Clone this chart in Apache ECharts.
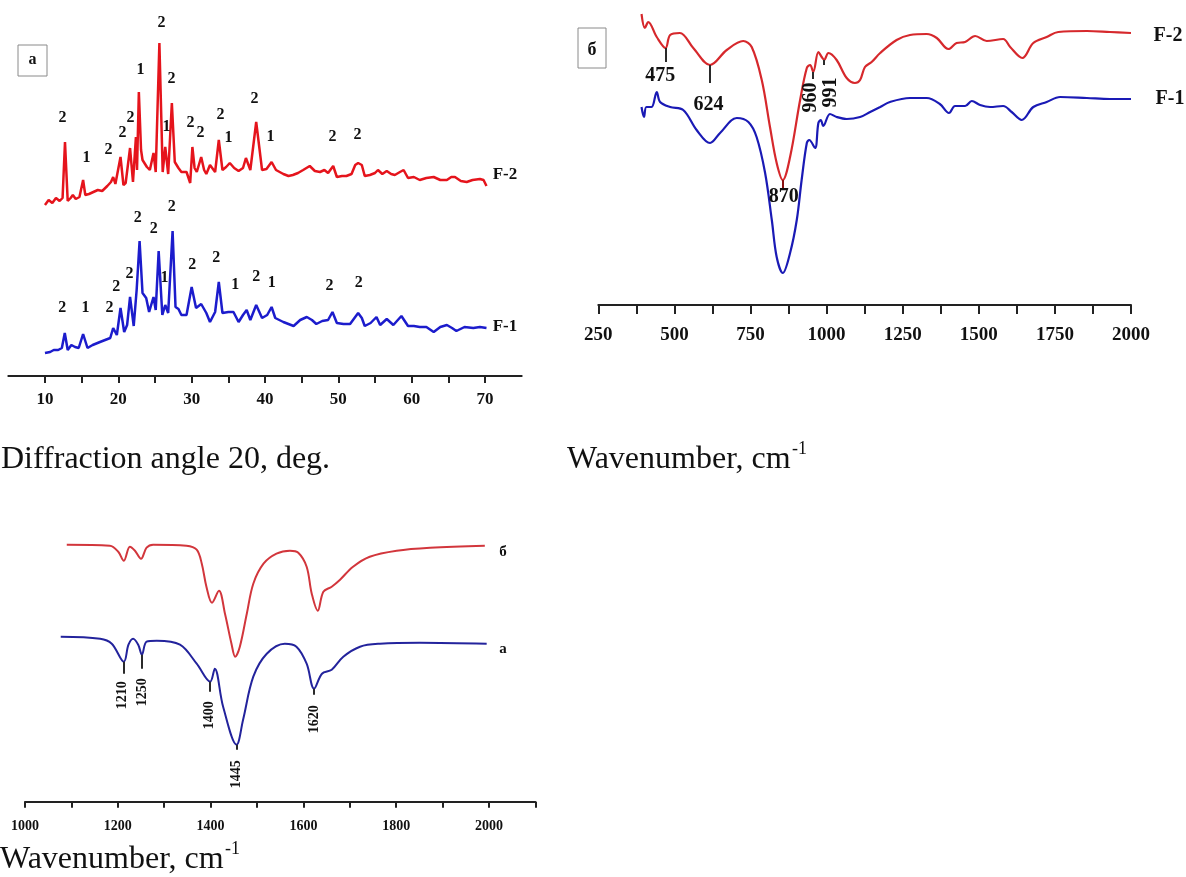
<!DOCTYPE html>
<html>
<head>
<meta charset="utf-8">
<script src="https://cdn.jsdelivr.net/npm/echarts@6/dist/echarts.min.js"></script>
<style>
    html, body { margin: 0; padding: 0; background: #fff; }
    #main { width: 1186px; height: 877px; }
</style>
</head>
<body>
<div id="main"></div>
<script>
// XRD, panel a: diffraction angle 2θ (deg) and intensity (a.u., F-2 offset upwards)
var xrdAngleF2 = [10.0, 10.5, 11.0, 11.5, 12.0, 12.4, 12.73, 13.1, 13.5, 13.8, 14.2, 14.7, 15.2, 15.5, 16.0, 16.6, 17.2, 17.8, 18.5, 19.0,
    19.3, 19.6, 20.3, 20.7, 21.0, 21.6, 22.0, 22.4, 22.55, 22.8, 23.1, 23.3, 23.9, 24.3, 24.8, 25.1, 25.6, 26.05, 26.4, 26.8,
    27.3, 27.7, 28.2, 28.6, 29.3, 29.8, 30.1, 30.4, 30.7, 31.3, 31.7, 32.0, 32.5, 33.2, 33.7, 34.2, 34.7, 35.2, 35.8, 36.4,
    37.0, 37.4, 38.0, 38.8, 39.6, 40.2, 40.9, 41.5, 42.5, 43.2, 43.8, 44.5, 45.2, 46.1, 46.8, 47.5, 48.1, 48.6, 49.3, 49.8,
    50.5, 51.1, 51.8, 52.3, 52.7, 53.2, 53.6, 54.3, 55.0, 55.4, 56.0, 56.6, 57.2, 57.7, 58.4, 58.9, 59.5, 60.3, 61.1, 62.0,
    63.0, 63.9, 64.8, 65.4, 65.9, 66.7, 67.5, 68.3, 69.3, 69.8, 70.2];
var xrdF2 = [171, 176, 173, 178, 175, 178, 234, 175, 178, 181, 177, 179, 196, 181, 182, 184, 186, 185, 190, 194,
    199, 192, 219, 191, 193, 228, 194, 239, 206, 284, 226, 216, 209, 206, 223, 204, 333, 204, 229, 202,
    273, 214, 208, 204, 204, 193, 229, 208, 204, 219, 206, 202, 211, 204, 236, 206, 209, 213, 208, 205,
    208, 218, 206, 254, 206, 207, 214, 206, 202, 200, 201, 203, 206, 210, 205, 204, 206, 203, 210, 199,
    200, 200, 202, 211, 213, 211, 200, 201, 203, 206, 202, 205, 202, 201, 204, 206, 198, 199, 196, 198,
    199, 196, 196, 199, 199, 195, 194, 196, 197, 196, 190];
var xrdAngleF1 = [10.0, 10.7, 11.2, 11.8, 12.3, 12.7, 13.1, 13.6, 14.1, 14.6, 15.2, 15.8, 16.5, 17.5, 18.2, 18.9, 19.3, 19.8, 20.3, 20.8,
    21.2, 21.6, 22.1, 22.5, 22.9, 23.3, 23.8, 24.2, 24.8, 25.1, 25.5, 26.0, 26.4, 26.8, 27.4, 27.8, 28.2, 28.6, 29.3, 30.0,
    30.6, 31.3, 32.0, 32.5, 33.2, 33.7, 34.2, 35.0, 35.7, 36.4, 37.0, 37.5, 38.0, 38.8, 39.6, 40.3, 40.9, 41.4, 42.5, 43.2,
    43.9, 44.8, 45.7, 46.4, 47.0, 47.8, 48.6, 49.2, 49.8, 50.7, 51.6, 52.2, 52.7, 53.2, 53.6, 54.4, 55.2, 55.7, 56.6, 57.5,
    58.6, 59.5, 60.3, 61.1, 62.0, 63.0, 63.9, 64.8, 65.5, 66.1, 67.2, 68.4, 69.3, 70.2];
var xrdF1 = [23, 24, 26, 26, 28, 43, 26, 31, 29, 28, 42, 28, 31, 34, 36, 38, 48, 41, 68, 44,
    51, 79, 50, 86, 135, 83, 78, 64, 79, 66, 125, 61, 71, 63, 145, 69, 67, 61, 61, 89,
    68, 72, 63, 54, 64, 94, 63, 64, 64, 54, 61, 66, 56, 71, 58, 61, 69, 58, 54, 52,
    50, 56, 59, 56, 52, 55, 56, 64, 53, 52, 52, 58, 63, 58, 50, 53, 59, 51, 57, 51,
    60, 50, 50, 49, 49, 44, 49, 51, 48, 45, 49, 48, 49, 48];
// phase labels [2θ, height, phase]
var xrdLabelsF2 = [[12.45, 258, '2'], [15.73, 218, '1'], [18.73, 226, '2'], [20.64, 243, '2'], [21.73, 258, '2'], [23.09, 306, '1'],
    [25.95, 353, '2'], [26.64, 249, '1'], [27.32, 297, '2'], [29.91, 253, '2'], [31.27, 243, '2'], [34.0, 261, '2'],
    [35.09, 238, '1'], [38.64, 277, '2'], [40.82, 239, '1'], [49.27, 239, '2'], [52.68, 241, '2']];
var xrdLabelsF1 = [[12.41, 68, '2'], [15.59, 68, '1'], [18.86, 68, '2'], [19.78, 89, '2'], [21.59, 102, '2'], [22.72, 158, '2'],
    [24.9, 147, '2'], [26.36, 98, '1'], [27.36, 169, '2'], [30.14, 111, '2'], [33.41, 118, '2'], [36.0, 91, '1'],
    [38.87, 99, '2'], [41.0, 93, '1'], [48.87, 90, '2'], [52.86, 93, '2']];

// IR, panel б: wavenumber (cm-1) and transmittance (a.u.)
var irWaveF2 = [392, 403, 414, 442, 471, 486, 518, 562, 617, 672, 726, 754, 787, 814, 836, 856, 880, 913, 935, 946,
    956, 973, 984, 992, 1006, 1033, 1066, 1093, 1110, 1126, 1148, 1176, 1230, 1274, 1329, 1362, 1400, 1427, 1455, 1488,
    1526, 1580, 1603, 1643, 1679, 1723, 1761, 1855, 1931, 2000];
var irF2 = [291, 277, 283, 268, 257, 270, 272, 257, 240, 255, 264, 258, 225, 178, 142, 125, 148, 205, 237, 240,
    233, 253, 248, 245, 252, 245, 227, 222, 225, 238, 243, 252, 265, 270, 271, 267, 256, 262, 263, 269,
    264, 266, 258, 247, 262, 268, 273, 274, 273, 272];
var irWaveF1 = [392, 400, 408, 425, 442, 453, 486, 529, 573, 617, 650, 705, 743, 770, 798, 820, 836, 856, 880, 902,
    918, 935, 943, 962, 973, 981, 989, 1011, 1033, 1066, 1110, 1143, 1176, 1208, 1274, 1329, 1372, 1402, 1422, 1455,
    1477, 1504, 1537, 1580, 1608, 1641, 1679, 1723, 1767, 1855, 1931, 2000];
var irF1 = [198, 188, 198, 198, 213, 203, 198, 195, 175, 162, 172, 187, 183, 168, 132, 85, 48, 32, 52, 85,
    125, 162, 165, 157, 182, 185, 179, 191, 188, 186, 188, 193, 198, 203, 207, 207, 201, 192, 199, 199,
    204, 200, 198, 199, 193, 185, 198, 203, 208, 207, 206, 206];
// band labels [wavenumber, height, text, rotated]
var irLabels = [[455, 229, '475', 0], [614, 200, '624', 0], [861, 108, '870', 0], [951, 207, '960', 90], [1017, 212, '991', 90]];
// band marks [wavenumber, from, to]
var irMarks = [[471, 257, 243], [617, 240, 222], [956, 233, 226], [992, 245, 240]];
var irMarkMain = [[856, 125, 115]];

// IR, bottom panel: samples а and б
var bandWaveB = [1090, 1183, 1201, 1213, 1226, 1237, 1250, 1262, 1276, 1348, 1370, 1381, 1391, 1403, 1418, 1431, 1445, 1453, 1463, 1478,
    1492, 1514, 1542, 1571, 1589, 1607, 1618, 1631, 1643, 1661, 1679, 1707, 1743, 1801, 1873, 1991];
var bandB = [257, 256, 250, 241, 255, 251, 243, 254, 257, 256, 252, 238, 215, 199, 211, 188, 158, 145, 155, 188,
    218, 238, 248, 251, 249, 235, 208, 191, 210, 215, 222, 235, 245, 251, 254, 256];
var bandWaveA = [1077, 1162, 1187, 1213, 1223, 1233, 1244, 1252, 1262, 1284, 1334, 1370, 1399, 1409, 1427, 1456, 1470, 1492, 1521, 1560,
    1585, 1607, 1623, 1640, 1661, 1686, 1722, 1765, 1851, 1995];
var bandA = [165, 163, 158, 140, 157, 163, 157, 147, 160, 161, 157, 138, 120, 133, 95, 57, 82, 125, 148, 158,
    155, 138, 113, 128, 132, 145, 155, 158, 159, 158];
var bandLabels = [[1212, 106, '1210', 90], [1255, 109, '1250', 90], [1399, 86, '1400', 90], [1457, 27, '1445', 90], [1625, 82, '1620', 90]];
var bandMarks = [[1213, 140, 128], [1252, 147, 133], [1399, 120, 110], [1456, 57, 52], [1623, 113, 107]];

var FONT = 'Liberation Serif';
var INK = '#111111';
var chart = null;

document.addEventListener('DOMContentLoaded', function() {
    chart = echarts.init(document.getElementById('main'), null, { renderer: 'canvas' });
    chart.setOption(buildOption());
});

function pairs(xs, ys) {
    var out = [];
    for (var i = 0; i < xs.length; i++) {
        out.push([xs[i], ys[i]]);
    }
    return out;
}

function range(a, b, step) {
    var out = [];
    for (var v = a; v <= b; v += step) out.push(v);
    return out;
}

/**
 * 曲线
 */
function curve(idx, xs, ys, color, width, smooth) {
    return {
        type: 'line',
        xAxisIndex: idx,
        yAxisIndex: idx,
        data: pairs(xs, ys),
        showSymbol: false,
        smooth: smooth,
        lineStyle: { color: color, width: width },
        silent: true,
        z: 3
    };
}

/**
 * 峰标注文字
 */
function labels(idx, rows, size) {
    return {
        type: 'scatter',
        xAxisIndex: idx,
        yAxisIndex: idx,
        symbol: 'circle',
        symbolSize: 1,
        itemStyle: { color: 'rgba(255,255,255,0)' },
        silent: true,
        z: 5,
        data: rows.map(function(r) {
            return {
                value: [r[0], r[1]],
                label: { rotate: r[3] || 0 },
                name: r[2]
            };
        }),
        label: {
            show: true,
            position: [0, 0],
            align: 'center',
            verticalAlign: 'middle',
            formatter: function(p) { return p.name; },
            fontFamily: FONT,
            fontWeight: 'bold',
            fontSize: size,
            color: INK,
            opacity: 1,
            textBorderWidth: 0
        }
    };
}

/**
 * 峰位竖线
 */
function marks(idx, rows, color) {
    return {
        type: 'lines',
        coordinateSystem: 'cartesian2d',
        xAxisIndex: idx,
        yAxisIndex: idx,
        silent: true,
        z: 4,
        lineStyle: { color: color, width: 2, opacity: 1 },
        data: rows.map(function(r) {
            return { coords: [[r[0], r[1]], [r[0], r[2]]] };
        })
    };
}

function xAxis(idx, min, max, ticks, labs, fontSize, margin, tickLen) {
    return {
        gridIndex: idx,
        type: 'value',
        min: min,
        max: max,
        axisLine: { show: true, lineStyle: { color: '#222', width: 2 } },
        axisTick: { show: true, customValues: ticks, length: tickLen, lineStyle: { color: '#222', width: 2 } },
        axisLabel: {
            customValues: labs,
            margin: margin,
            formatter: function(v) { return String(v); },
            fontFamily: FONT,
            fontWeight: 'bold',
            fontSize: fontSize,
            color: INK
        },
        splitLine: { show: false }
    };
}

function yAxis(idx, max) {
    return { gridIndex: idx, type: 'value', min: 0, max: max, show: false };
}

function text(x, y, str, size, bold, align) {
    return {
        type: 'text',
        x: x,
        y: y,
        silent: true,
        style: {
            text: str,
            fontFamily: FONT,
            fontSize: size,
            fontWeight: bold ? 'bold' : 'normal',
            fill: INK,
            align: align || 'center',
            verticalAlign: 'middle'
        }
    };
}

function buildOption() {
    var red1 = '#e5141c', blue1 = '#1c1ccc';
    var red2 = '#d6282c', blue2 = '#1a1ab5';
    var red3 = '#d2363c', blue3 = '#23239c';
    return {
        backgroundColor: '#ffffff',
        animation: false,
        grid: [
            { left: 8.3, top: 16, width: 513.4, height: 360 },
            { left: 598.3, top: 5, width: 532.7, height: 300 },
            { left: 25, top: 501.7, width: 510.4, height: 300 }
        ],
        xAxis: [
            xAxis(0, 5, 75, range(10, 70, 5), range(10, 70, 10), 17, 15, 7),
            xAxis(1, 250, 2000, range(250, 2000, 125), range(250, 2000, 250), 19, 21, 9),
            xAxis(2, 1000, 2100, range(1000, 2100, 100), range(1000, 2000, 200), 14, 18, 6)
        ],
        yAxis: [yAxis(0, 360), yAxis(1, 300), yAxis(2, 300)],
        series: [
            curve(0, xrdAngleF2, xrdF2, red1, 2.5, false),
            curve(0, xrdAngleF1, xrdF1, blue1, 2.5, false),
            labels(0, xrdLabelsF2, 16),
            labels(0, xrdLabelsF1, 16),
            curve(1, irWaveF2, irF2, red2, 2.2, 0.35),
            curve(1, irWaveF1, irF1, blue2, 2.2, 0.35),
            marks(1, irMarks, '#2a2a2a'),
            marks(1, irMarkMain, '#8a1010'),
            labels(1, irLabels, 20),
            curve(2, bandWaveB, bandB, red3, 2, 0.35),
            curve(2, bandWaveA, bandA, blue3, 2, 0.35),
            marks(2, bandMarks, '#2a2a2a'),
            labels(2, bandLabels, 14)
        ],
        graphic: [
            { type: 'rect', shape: { x: 18, y: 45, width: 29, height: 31 }, style: { fill: '#fff', stroke: '#8a8a8a', lineWidth: 1 } },
            text(32.5, 60, 'a', 16, true),
            { type: 'rect', shape: { x: 578, y: 28, width: 28, height: 40 }, style: { fill: '#fff', stroke: '#8a8a8a', lineWidth: 1 } },
            text(592, 50, 'б', 18, true),
            text(505, 175, 'F-2', 17, true),
            text(505, 327, 'F-1', 17, true),
            text(1168, 36, 'F-2', 20, true),
            text(1170, 99, 'F-1', 20, true),
            text(503, 552, 'б', 15, true),
            text(503, 649, 'a', 15, true),
            text(1, 460, 'Diffraction angle 20, deg.', 32, false, 'left'),
            text(567, 460, 'Wavenumber, cm', 32, false, 'left'),
            text(792, 449, '-1', 18, false, 'left'),
            text(0, 860, 'Wavenumber, cm', 32, false, 'left'),
            text(225, 849, '-1', 18, false, 'left')
        ]
    };
}
</script>
</body>
</html>
